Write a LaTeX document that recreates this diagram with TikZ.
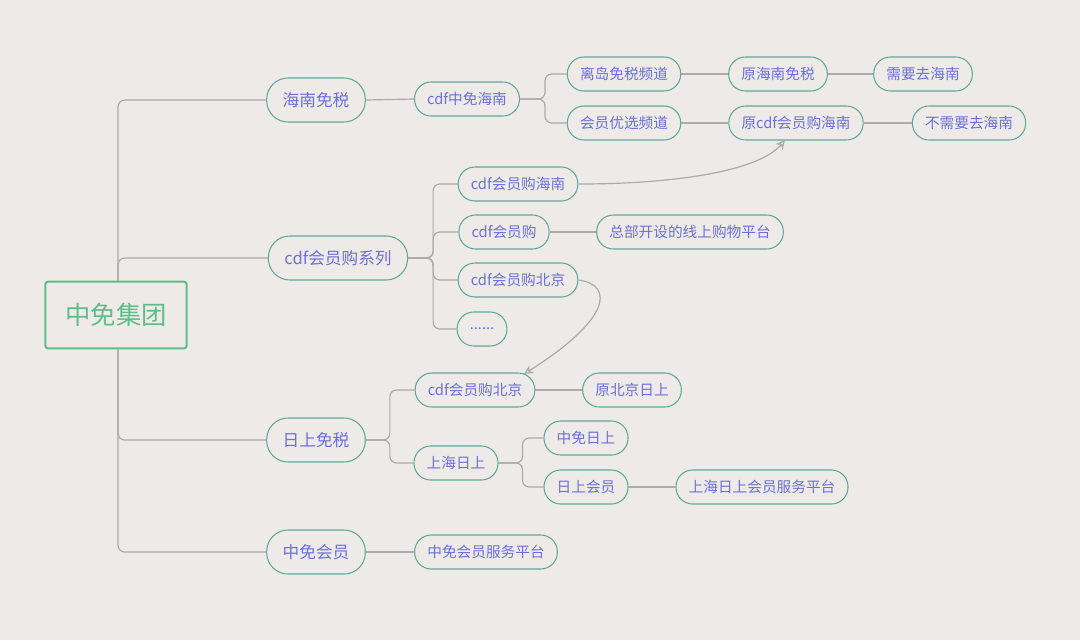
\documentclass[tikz,border=0pt]{standalone}
\usepackage{fontspec}
\setmainfont{Noto Sans CJK SC}
\usetikzlibrary{positioning, arrows.meta}
\definecolor{bgc}{HTML}{EEEAE8}
\definecolor{edgec}{HTML}{5FA8A0}
\definecolor{txtc}{HTML}{6C70D8}
\definecolor{linec}{HTML}{ABABAB}
\definecolor{rootc}{HTML}{5DBE8A}
\tikzstyle{topic} = [rectangle, draw=edgec, fill=bgc, text=txtc, rounded corners=12.5pt, minimum height=25.5pt, inner xsep=9.5pt, font=\fontsize{11}{12}\selectfont, line width=0.8pt]
\tikzstyle{main} = [topic, rounded corners=16pt, minimum height=33pt, inner xsep=12pt, font=\fontsize{12.5}{14}\selectfont]
\tikzstyle{root} = [rectangle, draw=rootc, fill=bgc, text=rootc, line width=1.5pt, rounded corners=2pt, minimum width=106pt, minimum height=50pt, font=\fontsize{19}{22}\selectfont]
\tikzstyle{line} = [draw=linec, line width=0.9pt, rounded corners=5pt]
\tikzstyle{link} = [draw=linec, line width=0.9pt, -{Stealth[open, length=7pt, width=7pt]}]
\begin{document}
\begin{tikzpicture}[x=0.75pt, y=-0.75pt]
\fill[bgc] (0,0) rectangle (1080,640);
\useasboundingbox (0,0) rectangle (1080,640);
\node [root] (zm) at (116,315) {中免集团};
% first level
\node [main] (hn) at (316,100) {海南免税};
\node [main] (cdf) at (338,258) {cdf会员购系列};
\node [main] (rs) at (316,440) {日上免税};
\node [main] (hy) at (316,552) {中免会员};
\path[line] (zm.north -| 118,0) |- (hn.west);
\path[line] (zm.north -| 118,0) |- (cdf.west);
\path[line] (zm.south -| 118,0) |- (rs.west);
\path[line] (zm.south -| 118,0) |- (hy.west);
% hainan
\node [topic] (cdfhn) at (467,99) {cdf中免海南};
\node [topic] (lidao) at (624,74) {离岛免税频道};
\node [topic] (youxuan) at (624,123) {会员优选频道};
\node [topic] (yhn) at (778,74) {原海南免税};
\node [topic] (ycdf) at (796,123) {原cdf会员购海南};
\node [topic] (xy) at (923,74) {需要去海南};
\node [topic] (bxy) at (969,123) {不需要去海南};
\path[line] (hn.east) -- (cdfhn.west);
\path[line] (cdfhn.east) -- ++(25,0) |- (lidao.west);
\path[line] (cdfhn.east) -- ++(25,0) |- (youxuan.west);
\path[line] (lidao) -- (yhn);
\path[line] (youxuan) -- (ycdf);
\path[line] (yhn) -- (xy);
\path[line] (ycdf) -- (bxy);
% cdf series
\node [topic] (cgh) at (518,184) {cdf会员购海南};
\node [topic] (cg) at (504,232) {cdf会员购};
\node [topic] (zb) at (690,232) {总部开设的线上购物平台};
\node [topic] (cgb) at (518,280) {cdf会员购北京};
\node [topic] (dots) at (482,329) {......};
\foreach \c in {cgh, cg, cgb, dots}
  \path[line] (cdf.east) -- ++(25,0) |- (\c.west);
\path[line] (cg) -- (zb);
% rishang
\node [topic] (cgb2) at (475,390) {cdf会员购北京};
\node [topic] (ybj) at (632,390) {原北京日上};
\node [topic] (shrs) at (456,463) {上海日上};
\node [topic] (zmrs) at (586,438) {中免日上};
\node [topic] (rshy) at (586,487) {日上会员};
\node [topic] (shpt) at (762,487) {上海日上会员服务平台};
\path[line] (rs.east) -- ++(24,0) |- (cgb2.west);
\path[line] (rs.east) -- ++(24,0) |- (shrs.west);
\path[line] (cgb2) -- (ybj);
\path[line] (shrs.east) -- ++(24,0) |- (zmrs.west);
\path[line] (shrs.east) -- ++(24,0) |- (rshy.west);
\path[line] (rshy) -- (shpt);
% member
\node [topic] (hypt) at (486,552) {中免会员服务平台};
\path[line] (hy) -- (hypt);
% links
\path[link] (cgh.east) .. controls (680,184) and (760,170) .. (785,140);
\path[link] (cgb.east) .. controls (615,285) and (610,320) .. (524,374);
\end{tikzpicture}
\end{document}
